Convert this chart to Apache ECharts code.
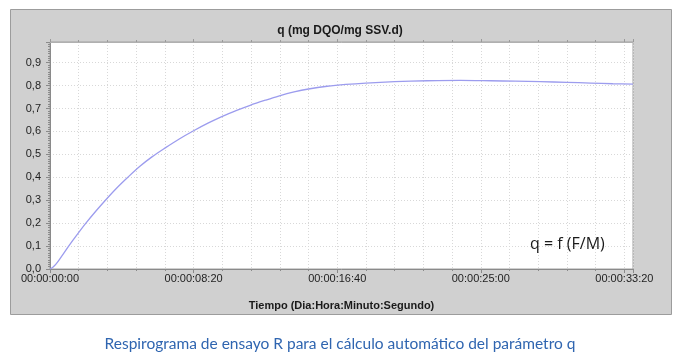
<!DOCTYPE html>
<html>
<head>
<meta charset="utf-8">
<script src="https://cdn.jsdelivr.net/npm/echarts@6/dist/echarts.min.js"></script>
<style>html,body{margin:0;padding:0;background:#fff;}#c{width:680px;height:362px;}</style>
</head>
<body>
<div id="c"></div>
<script>
// Time in seconds
var timeSec = [0, 10, 20, 35, 50, 65, 95, 125, 160, 193, 230, 271, 312, 355, 400, 450, 500, 550, 600, 650, 697, 750, 796, 850, 900, 965, 1030, 1100, 1200, 1313, 1429, 1534, 1620, 1708, 1800, 1882, 1960, 2030];
// q (mg DQO/mg SSV.d)
var qValues = [0, 0.008, 0.02, 0.045, 0.072, 0.1, 0.151, 0.2, 0.253, 0.3, 0.35, 0.4, 0.447, 0.489, 0.527, 0.567, 0.603, 0.636, 0.666, 0.692, 0.714, 0.736, 0.754, 0.772, 0.785, 0.797, 0.805, 0.811, 0.817, 0.821, 0.823, 0.821, 0.819, 0.817, 0.814, 0.811, 0.808, 0.806];
var yTicks = [0, 0.1, 0.2, 0.3, 0.4, 0.5, 0.6, 0.7, 0.8, 0.9];
var xTicks = [0, 500, 1000, 1500, 2000];
var titleText = 'q (mg DQO/mg SSV.d)';
var xName = 'Tiempo (Dia:Hora:Minuto:Segundo)';
var noteText = 'q = f (F/M)';
var captionText = 'Respirograma de ensayo R para el cálculo automático del parámetro q';

function pad(n){ return (n < 10 ? '0' : '') + n; }
function fmtTime(v){
  var s = Math.round(v);
  var d = Math.floor(s / 86400); s -= d * 86400;
  var h = Math.floor(s / 3600); s -= h * 3600;
  var m = Math.floor(s / 60); s -= m * 60;
  return pad(d) + ':' + pad(h) + ':' + pad(m) + ':' + pad(s);
}
var data = timeSec.map(function(t, i){ return [t, qValues[i]]; });

var chart = echarts.init(document.getElementById('c'), null, {renderer: 'canvas'});
var dotted = {color: '#d8d8d8', type: [1, 2], width: 1};
chart.setOption({
  animation: false,
  backgroundColor: '#ffffff',
  graphic: [
    {type: 'rect', z: -10, shape: {x: 10.5, y: 9.5, width: 661, height: 305},
     style: {fill: '#d0d0d0', stroke: '#9c9c9c', lineWidth: 1}},
    {type: 'text', z: 10, left: 530, top: 236,
     style: {text: noteText, fill: '#1a1a1a', font: '16px "Open Sans", sans-serif'}},
    {type: 'text', z: 10, left: 'center', top: 336,
     style: {text: captionText, fill: '#2f65b0', font: '15.5px Lato, sans-serif'}}
  ],
  title: {
    text: titleText, left: 'center', top: 20,
    textStyle: {fontFamily: 'Liberation Sans, Arial, sans-serif', fontWeight: 'bold', fontSize: 12, color: '#1a1a1a'}
  },
  grid: {left: 50, top: 42, right: 47, bottom: 93, show: true, backgroundColor: '#ffffff', borderColor: '#a0a0a0', borderWidth: 1},
  xAxis: [{
    type: 'value', min: 0, max: 2030, interval: 500,
    name: xName, nameLocation: 'middle', nameGap: 31,
    nameTextStyle: {fontFamily: 'Liberation Sans, Arial, sans-serif', fontWeight: 'bold', fontSize: 11, color: '#1a1a1a'},
    axisLine: {show: true, lineStyle: {color: '#8a8a8a'}},
    axisTick: {show: true, length: 4, lineStyle: {color: '#8a8a8a'}},
    minorTick: {show: true, splitNumber: 5, length: 2, lineStyle: {color: '#8a8a8a'}},
    splitLine: {show: true, lineStyle: dotted},
    minorSplitLine: {show: true, lineStyle: dotted},
    axisLabel: {
      margin: 4, fontFamily: 'Liberation Sans, Arial, sans-serif', fontSize: 11, color: '#1e1e1e',
      formatter: function(v){ return xTicks.indexOf(v) >= 0 ? fmtTime(v) : ''; }
    }
  }, {
    type: 'value', position: 'top', min: 0, max: 2030, interval: 500,
    axisLine: {show: true, lineStyle: {color: '#b0b0b0'}},
    axisTick: {show: true, length: 3, lineStyle: {color: '#9a9a9a'}},
    minorTick: {show: true, splitNumber: 5, length: 2, lineStyle: {color: '#9a9a9a'}},
    splitLine: {show: false}, axisLabel: {show: false}
  }],
  yAxis: {
    type: 'value', min: 0, max: 0.99, interval: 0.1,
    axisLine: {show: true, lineStyle: {color: '#8a8a8a'}},
    axisTick: {show: true, length: 4, lineStyle: {color: '#8a8a8a'}},
    minorTick: {show: true, splitNumber: 10, length: 2, lineStyle: {color: '#8a8a8a'}},
    splitLine: {show: true, lineStyle: dotted},
    axisLabel: {
      margin: 9, fontFamily: 'Liberation Sans, Arial, sans-serif', fontSize: 11, color: '#1e1e1e',
      formatter: function(v){
        for (var i = 0; i < yTicks.length; i++) { if (Math.abs(v - yTicks[i]) < 1e-6) return yTicks[i].toFixed(1).replace('.', ','); }
        return '';
      }
    }
  },
  series: [{
    type: 'line', data: data, smooth: 0.3, showSymbol: false, xAxisIndex: 0,
    lineStyle: {color: '#9c9cee', width: 1.3}
  }]
});
</script>
</body>
</html>
